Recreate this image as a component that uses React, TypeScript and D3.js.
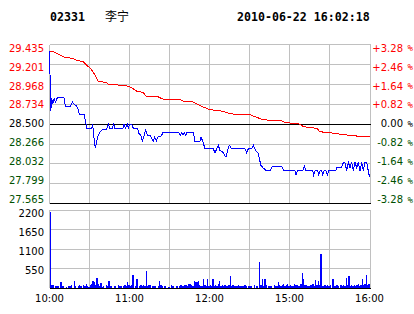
import React from 'react';
import * as d3 from 'd3';

const stockCode = '02331';
const stockName = '李宁';
const stamp = '2010-06-22 16:02:18';

const priceTicks = [29.435, 29.201, 28.968, 28.734, 28.5, 28.266, 28.032, 27.799, 27.565];
const pctTicks = ['+3.28', '+2.46', '+1.64', '+0.82', '0.00', '-0.82', '-1.64', '-2.46', '-3.28'];
const volTicks = [2200, 1650, 1100, 550];
const timeLabels = ['10:00', '11:00', '12:00', '15:00', '16:00'];

// [minute, price]
const pricePts: [number, number][] = [
  [0, 29.36], [1, 28.65], [1.6, 28.81], [2.4, 28.74], [3.4, 28.8], [4.6, 28.76], [5.9, 28.81],
  [10.9, 28.81], [11.9, 28.71], [15.9, 28.71], [17.1, 28.76], [18.6, 28.73], [20.4, 28.71],
  [21.6, 28.67], [22.4, 28.61], [26.1, 28.61], [27.4, 28.5], [27.9, 28.45], [31.6, 28.45],
  [32.4, 28.5], [33.4, 28.33], [34.4, 28.22], [35.4, 28.3], [36.6, 28.37], [37.9, 28.41],
  [39.9, 28.44], [42.9, 28.44], [44.1, 28.5], [45.1, 28.45], [47.1, 28.45], [48.1, 28.5],
  [49.1, 28.45], [55.1, 28.45], [55.9, 28.5], [56.9, 28.45], [58.4, 28.5], [59.1, 28.45],
  [60.1, 28.5], [61.6, 28.5], [62.9, 28.45], [65.9, 28.45], [67.1, 28.39], [68.4, 28.37],
  [69.6, 28.3], [71.1, 28.37], [72.1, 28.43], [73.4, 28.37], [75.4, 28.37], [76.6, 28.33],
  [77.9, 28.3], [78.9, 28.35], [80.1, 28.3], [81.4, 28.35], [83.4, 28.35], [85.1, 28.4],
  [97.1, 28.4], [98.1, 28.37], [99.1, 28.4], [100.1, 28.37], [101.1, 28.4], [102.1, 28.37],
  [103.1, 28.4], [108, 28.4], [109.1, 28.3], [112.9, 28.3], [113.6, 28.35], [114.9, 28.3],
  [116.6, 28.21], [122.9, 28.21], [124.1, 28.16], [125.4, 28.21], [126.6, 28.25], [127.9, 28.19],
  [129.1, 28.18], [130.4, 28.16], [132.4, 28.11], [134.1, 28.22], [134.9, 28.25], [136.6, 28.21],
  [146.6, 28.21], [147.9, 28.16], [149.1, 28.21], [151.6, 28.21], [152.9, 28.25], [154.6, 28.19],
  [156.6, 28.16], [158.4, 28.02], [159.9, 27.99], [162.9, 27.95], [165.4, 27.95], [167.1, 28.0],
  [174.1, 28.0], [175.9, 27.95], [184.1, 27.95], [184.9, 27.9], [185.9, 27.95], [189.9, 27.95],
  [191.1, 28.01], [192.4, 27.95], [197.4, 27.95], [198.1, 27.9], [199.1, 27.95], [201.1, 27.95],
  [201.9, 27.9], [202.9, 27.95], [204.1, 27.95], [204.9, 27.9], [205.9, 27.95], [207.4, 27.95],
  [208.4, 27.9], [209.4, 27.95], [214.6, 27.95], [215.4, 27.99], [219.1, 27.99], [220.4, 28.05],
  [221.6, 28.05], [222.9, 27.95], [224.1, 28.05], [225.4, 27.99], [226.6, 28.05], [227.9, 27.95],
  [229.1, 28.05], [230.4, 27.99], [231.6, 28.05], [232.9, 27.95], [234.1, 28.05], [235.4, 27.95],
  [236.6, 28.05], [237.9, 28.05], [239.1, 27.95], [240, 27.88],
];

// [minute, average price]
const avgPts: [number, number][] = [
  [0, 29.36], [2.9, 29.35], [5.4, 29.33], [7.9, 29.31], [10.4, 29.29], [17.9, 29.27],
  [20.4, 29.25], [25.4, 29.23], [27.9, 29.19], [30.4, 29.16], [32.9, 29.11], [34.9, 29.05],
  [36.6, 29.0], [42.9, 28.99], [44.1, 28.97], [57.9, 28.95], [61.6, 28.93], [64.9, 28.89],
  [70.4, 28.87], [72.4, 28.83], [74.1, 28.82], [81.6, 28.82], [84.1, 28.8], [86.6, 28.79],
  [97.9, 28.79], [100.4, 28.77], [106.6, 28.765], [110.4, 28.74], [115.4, 28.7], [120.4, 28.67],
  [130.4, 28.65], [135.4, 28.62], [150.4, 28.61], [155.4, 28.58], [160.4, 28.55], [174.1, 28.54],
  [176.6, 28.52], [187.9, 28.5], [190.4, 28.47], [200.4, 28.45], [202.9, 28.41], [215.4, 28.39],
  [217.9, 28.38], [230.4, 28.36], [232.9, 28.35], [240, 28.35],
];

// per-minute volume
const volumes = [
  2150, 90, 80, 0, 60, 70, 50, 0, 170, 60, 70, 0, 40, 0, 60, 50, 80, 0, 190, 60,
  0, 50, 80, 60, 0, 90, 70, 110, 60, 40, 80, 100, 190, 170, 90, 290, 120, 60, 130, 40,
  60, 0, 80, 60, 190, 50, 70, 0, 60, 70, 0, 80, 60, 70, 0, 60, 80, 50, 170, 90,
  60, 80, 370, 0, 60, 240, 0, 50, 90, 60, 80, 70, 490, 60, 90, 80, 0, 70, 60, 50,
  0, 60, 210, 80, 60, 0, 50, 0, 0, 40, 0, 80, 50, 0, 0, 60, 0, 70, 80, 60,
  60, 90, 80, 70, 110, 120, 80, 60, 190, 180, 160, 190, 80, 70, 60, 260, 90, 60, 240, 70,
  80, 60, 260, 70, 90, 60, 100, 200, 60, 80, 50, 90, 60, 70, 80, 340, 60, 90, 50, 70,
  60, 80, 70, 50, 60, 70, 90, 60, 0, 70, 50, 60, 0, 80, 0, 50, 0, 740, 90, 240,
  60, 240, 80, 0, 60, 50, 70, 0, 80, 60, 70, 170, 90, 60, 80, 100, 60, 80, 120, 60,
  90, 70, 60, 110, 80, 90, 60, 70, 120, 430, 240, 80, 90, 70, 60, 80, 90, 100, 70, 220,
  90, 210, 80, 960, 70, 60, 80, 70, 90, 60, 80, 0, 240, 70, 60, 90, 60, 0, 80, 60,
  90, 70, 270, 80, 340, 60, 90, 70, 80, 60, 90, 110, 70, 80, 240, 90, 100, 370, 80, 100,
];

const L = 49.5, R = 369.5, RB = 370.5;
const PT = 44.5, PB = 203.7;
const VT = 210, VB = 288;
const GRID = '#c0c0c0';
const RED = '#ff0000';
const GREEN = '#005000';
const FONT = 'DejaVu Sans, Verdana, sans-serif';

export default function App() {
  const x = d3.scaleLinear().domain([0, 240]).range([L, R]);
  const yP = d3.scaleLinear().domain([27.565, 29.435]).range([PB, PT]);
  const yV = d3.scaleLinear().domain([0, 2200]).range([VB, VT]);
  const labelY = d3.scaleLinear().domain([0, 8]).range([48, 199.7]);
  const volLabelY = d3.scaleLinear().domain([0, 3]).range([213.7, 270.3]);
  const line = d3.line<[number, number]>().x(d => x(d[0])).y(d => yP(d[1]));
  const vLines = d3.range(1, 8).map(k => L + k * 40);
  const colorFor = (i: number) => (i < 4 ? RED : i === 4 ? '#000' : GREEN);

  return (
    <div style={{ position: 'fixed', left: 0, top: 0 }}>
      <svg width={414} height={314} style={{ display: 'block', background: '#fff' }}>
        <rect x={0} y={0} width={414} height={314} fill="#fff" />
        {/* header */}
        <text x={50} y={21} fontFamily="DejaVu Sans Mono, monospace" fontWeight="bold" fontSize={11.6}>{stockCode}</text>
        <text x={105} y={21} fontFamily="Noto Sans CJK SC" fontSize={12}>{stockName}</text>
        <text x={237} y={21} fontFamily="DejaVu Sans Mono, monospace" fontWeight="bold" fontSize={11.6}>{stamp}</text>

        {/* price grid */}
        <g shapeRendering="crispEdges">
          {priceTicks.map((p, i) => (
            i === 4 || i === 8 ? null :
              <line key={'ph' + i} x1={L} x2={RB} y1={yP(p)} y2={yP(p)} stroke={GRID} />
          ))}
          {vLines.map((vx, i) => (
            <line key={'pv' + i} x1={vx} x2={vx} y1={PT} y2={PB} stroke={GRID} />
          ))}
          <line x1={L} x2={L} y1={PT} y2={PB} stroke={GRID} />
          <line x1={RB} x2={RB} y1={PT} y2={PB} stroke={GRID} />
          <line x1={L} x2={RB} y1={yP(28.5)} y2={yP(28.5)} stroke="#000" />
          <line x1={L} x2={RB} y1={PB} y2={PB} stroke="#000" />
        </g>

        {/* volume grid */}
        <g shapeRendering="crispEdges">
          {[2200, 1650, 1100, 550].map((v, i) => (
            <line key={'vh' + i} x1={L} x2={RB} y1={yV(v)} y2={yV(v)} stroke={GRID} />
          ))}
          {vLines.map((vx, i) => (
            <line key={'vv' + i} x1={vx} x2={vx} y1={VT} y2={VB} stroke={GRID} />
          ))}
          <line x1={L} x2={L} y1={VT} y2={VB} stroke={GRID} />
          <line x1={RB} x2={RB} y1={VT} y2={VB} stroke={GRID} />
        </g>

        {/* volume bars */}
        <g shapeRendering="crispEdges" fill="#0000ff">
          {volumes.map((v, i) => (v > 0 ?
            <rect key={'b' + i} x={x(i) + 0.3} y={yV(v)} width={1.2} height={VB - yV(v)} /> : null))}
        </g>
        <line x1={L} x2={RB} y1={VB} y2={VB} stroke="#000" shapeRendering="crispEdges" />

        {/* lines */}
        <path d={line(avgPts) || ''} fill="none" stroke={RED} strokeWidth={1} shapeRendering="crispEdges" />
        <path d={line(pricePts) || ''} fill="none" stroke="#0000ff" strokeWidth={1} shapeRendering="crispEdges" />

        {/* left price labels */}
        {priceTicks.map((p, i) => (
          <text key={'pl' + i} x={44} y={labelY(i)} dy="0.36em" textAnchor="end"
            fontFamily={FONT} fontSize={10} fill={colorFor(i)}>{p.toFixed(3)}</text>
        ))}
        {/* right percentage labels */}
        {pctTicks.map((t, i) => (
          <g key={'pr' + i}>
            <text x={403} y={labelY(i)} dy="0.36em" textAnchor="end"
              fontFamily={FONT} fontSize={10} fill={colorFor(i)}>{t}</text>
            <text x={407.5} y={labelY(i)} dy="0.36em"
              fontFamily="DejaVu Sans Mono, monospace" fontSize={9} fill={colorFor(i)}>%</text>
          </g>
        ))}
        {/* volume labels */}
        {volTicks.map((v, i) => (
          <text key={'vl' + i} x={44} y={volLabelY(i)} dy="0.36em" textAnchor="end"
            fontFamily={FONT} fontSize={10} fill="#000">{v}</text>
        ))}
        {/* time labels */}
        {timeLabels.map((t, i) => (
          <text key={'tl' + i} x={L + i * 80} y={298} dy="0.36em" textAnchor="middle"
            fontFamily={FONT} fontSize={10} fill="#000">{t}</text>
        ))}
      </svg>
    </div>
  );
}
